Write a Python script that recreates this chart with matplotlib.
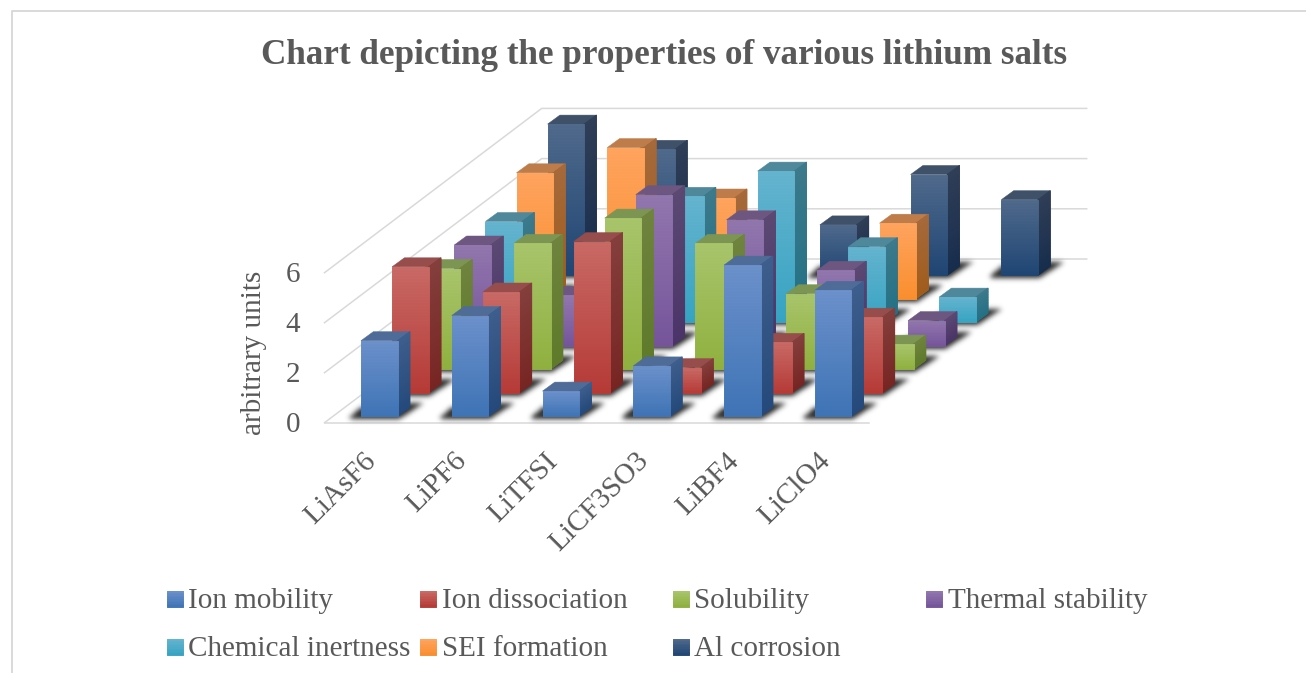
import numpy as np
import matplotlib
matplotlib.use("Agg")
import matplotlib.pyplot as plt
from matplotlib.collections import PolyCollection
from matplotlib.path import Path
from matplotlib.patches import Polygon
from matplotlib.colors import to_rgb

plt.rcParams['font.family'] = ['Liberation Serif', 'DejaVu Serif']

# ---------- data ----------
categories = ["LiAsF6", "LiPF6", "LiTFSI", "LiCF3SO3", "LiBF4", "LiClO4"]
series_names = ["Ion mobility", "Ion dissociation", "Solubility", "Thermal stability",
                "Chemical inertness", "SEI formation", "Al corrosion"]
ion_mobility = [3, 4, 1, 2, 6, 5]
ion_dissociation = [5, 4, 6, 1, 2, 3]
solubility = [4, 5, 6, 5, 3, 1]
thermal_stability = [4, 2, 6, 5, 3, 1]
chemical_inertness = [4, 3, 5, 6, 3, 1]
sei_formation = [5, 6, 4, 0, 3, 0]
al_corrosion = [6, 5, 0, 2, 4, 3]
value_ticks = [0, 2, 4, 6]
title = "Chart depicting the properties of various lithium salts"
y_title = "arbitrary units"

series_values = [ion_mobility, ion_dissociation, solubility, thermal_stability,
                 chemical_inertness, sei_formation, al_corrosion]

# front top, front bottom, side top, side bottom, top face
palette = [
    ("#6C91CB", "#3E73B5", "#3F5F8E", "#24497A", "#4E6C97"),
    ("#C96A66", "#B53A36", "#85403D", "#772523", "#964D4B"),
    ("#A9C56C", "#8FB03F", "#70843F", "#5E7A2A", "#7C9552"),
    ("#9277AE", "#75549A", "#5C4A74", "#4B3468", "#6D5780"),
    ("#65B4CF", "#36A3C2", "#3D7A8C", "#237085", "#4F889B"),
    ("#FFA45F", "#F98E2E", "#A66A3C", "#A05C1C", "#BE7C4A"),
    ("#506A8C", "#1F4573", "#313F58", "#172D4D", "#3F5069"),
]

# ---------- projection of the oblique 3-D box ----------
X0, Y0 = 361.0, 416.3
CAT_DX = 90.75
SER_DX, SER_DY = 31.1, -23.5
UNIT = 25.2
BAR_W, DEPTH_X, DEPTH_Y = 36.6, 12.3, -9.0
GRID = "#D9D9D9"
TEXT = "#595959"
W, H = 1306, 673


def base(c, s):
    return X0 + c * CAT_DX + s * SER_DX, Y0 + s * SER_DY


fig = plt.figure(figsize=(W / 100, H / 100), dpi=100)
ax = fig.add_axes([0, 0, 1, 1])
ax.axis("off")

z = [2]


def nz():
    z[0] += 1
    return z[0]


def grad_face(tl, tr, br, bl, c_top, c_bot):
    """Quad filled with a top-to-bottom gradient, as thin strips over a solid base."""
    tl, tr, br, bl = map(np.asarray, (tl, tr, br, bl))
    n = max(int(abs(bl[1] - tl[1]) / 1.5), 4)
    ts = np.linspace(0, 1, n + 1)
    a, b = np.array(to_rgb(c_top)), np.array(to_rgb(c_bot))
    mid = (a + b) / 2
    ax.add_patch(Polygon([tl, tr, br, bl], closed=True, fc=mid, ec=mid, lw=0.4, zorder=nz()))
    polys, cols = [], []
    for t0, t1 in zip(ts[:-1], ts[1:]):
        polys.append([tl + (bl - tl) * t0, tr + (br - tr) * t0, tr + (br - tr) * t1, tl + (bl - tl) * t1])
        cols.append(a + (b - a) * (t0 + t1) / 2)
    ax.add_collection(PolyCollection(polys, facecolors=cols, edgecolors=cols, linewidths=0.5, zorder=nz()))


def draw_bar(c, s, v, col):
    x, y = base(c, s)
    ft, fb, st, sb, tp = col
    xr = x + BAR_W
    yt = y - v * UNIT
    ax.add_patch(Polygon([(x, yt), (xr, yt), (xr + DEPTH_X, yt + DEPTH_Y), (x + DEPTH_X, yt + DEPTH_Y)],
                         closed=True, fc=tp, ec=tp, lw=0.35, zorder=nz()))
    grad_face((xr, yt), (xr + DEPTH_X, yt + DEPTH_Y), (xr + DEPTH_X, y + DEPTH_Y), (xr, y), st, sb)
    grad_face((x, yt), (xr, yt), (xr, y), (x, y), ft, fb)


def shadow_layer():
    """Soft floor shadows: a polygon per bar, blurred together."""
    shape = np.array([(-12, 1.5), (0, -9), (49, -13.5), (63, -13.5), (38, 2.8), (-9, 2.8)], float)
    yy, xx = np.mgrid[0:H, 0:W]
    grid = np.column_stack([xx.ravel() + 0.5, yy.ravel() + 0.5])
    mask = np.zeros((H, W))
    for s, vals in enumerate(series_values):
        for c, v in enumerate(vals):
            if v > 0:
                x, y = base(c, s)
                p = Path(shape + [x, y])
                x0, y0 = int(x - 20), int(y - 20)
                sel = (grid[:, 0] > x0) & (grid[:, 0] < x0 + 100) & (grid[:, 1] > y0) & (grid[:, 1] < y0 + 30)
                idx = np.where(sel)[0]
                mask.ravel()[idx[p.contains_points(grid[idx])]] = 1.0
    r = np.arange(-9, 10)
    kernel = np.exp(-r ** 2 / (2 * 2.6 ** 2))
    kernel /= kernel.sum()
    mask = np.apply_along_axis(lambda m: np.convolve(m, kernel, mode="same"), 1, mask)
    mask = np.apply_along_axis(lambda m: np.convolve(m, kernel, mode="same"), 0, mask)
    rgba = np.zeros((H, W, 4))
    rgba[..., :3] = 0.15
    rgba[..., 3] = np.clip(mask * 1.0, 0, 0.9)
    ax.imshow(rgba, extent=(0, W, H, 0), aspect="auto", origin="upper", interpolation="nearest", zorder=2)


# ---------- walls ----------
WALL_L_X, WALL_B_X, WALL_R_X, FRONT_R_X = 324.5, 541.7, 1086.7, 869.3
WALL_FRONT_Y0, WALL_BACK_Y0 = 422.7, 259.0
for t in value_ticks:
    yf = WALL_FRONT_Y0 - t * 25.0
    yb = WALL_BACK_Y0 - t * 25.1
    ax.plot([WALL_L_X, WALL_B_X, WALL_R_X], [yf, yb, yb], color=GRID, lw=1.1, zorder=1, solid_joinstyle="miter")
    ax.text(300.5, yf + 2.5, str(t), ha="right", va="center", fontsize=21, color=TEXT, zorder=1000)
ax.plot([WALL_L_X, FRONT_R_X], [WALL_FRONT_Y0] * 2, color=GRID, lw=1.1, zorder=1)

# ---------- bars ----------
shadow_layer()
for s in range(len(series_values) - 1, -1, -1):
    for c, v in enumerate(series_values[s]):
        if v > 0:
            draw_bar(c, s, v, palette[s])

# ---------- texts ----------
ax.text(664.5, 55.5, title, ha="center", va="center", fontsize=25.3, fontweight="bold", color=TEXT, zorder=1000)
ax.text(254, 353, y_title, rotation=90, ha="center", va="center", fontsize=21, color=TEXT, zorder=1000)
for c, lab in enumerate(categories):
    ax.text(381.5 + c * CAT_DX, 448, lab, rotation=45, ha="right", va="top", fontsize=21, color=TEXT, zorder=1000)

# ---------- legend ----------
leg_x = [167, 420, 673, 926]
leg_y = [599, 647]
for i, name in enumerate(series_names):
    lx = leg_x[i % 4]
    ly = leg_y[i // 4]
    grad_face((lx, ly - 8), (lx + 16, ly - 8), (lx + 16, ly + 8), (lx, ly + 8), palette[i][0], palette[i][1])
    ax.text(lx + 21.5, ly + 1.5, name, ha="left", va="center", fontsize=21, color=TEXT, zorder=1000)

# ---------- outer frame ----------
ax.plot([11.5, 11.5, W], [H, 10.5, 10.5], color=GRID, lw=1.4, zorder=0.5)

ax.set_xlim(0, W)
ax.set_ylim(H, 0)
fig.savefig("out.png", dpi=100)
